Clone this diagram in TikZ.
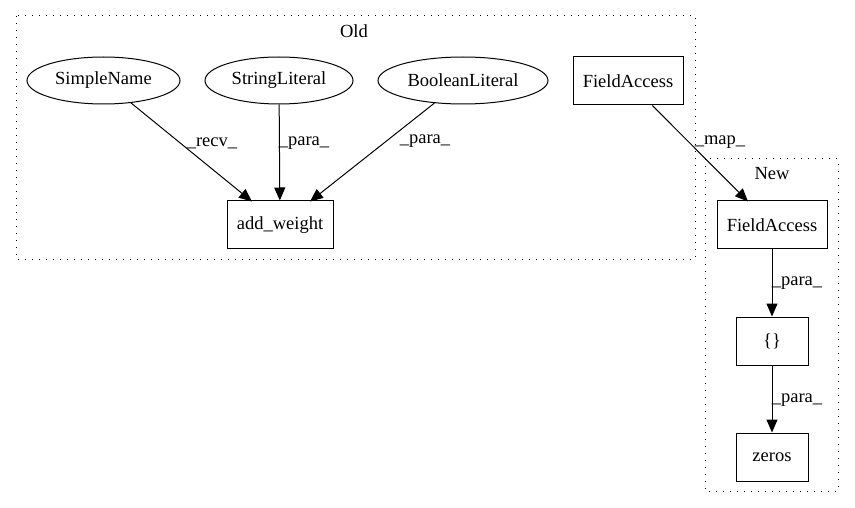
\documentclass[tikz,border=0pt]{standalone}
\usepackage{fontspec}
\setmainfont{Liberation Serif}
\usetikzlibrary{arrows.meta,shapes.geometric}
\begin{document}
\begin{tikzpicture}[x=1pt,y=-1pt,
  every node/.style={font=\fontsize{18.5}{21}\selectfont, inner sep=0pt},
  ell/.style={draw, ellipse, line width=1pt},
  boxnode/.style={draw, rectangle, line width=1pt},
  cluster/.style={draw, line width=1pt, dash pattern=on 1.3pt off 5.7pt},
  edge/.style={draw, line width=1pt, -{Triangle[length=13pt,width=11pt]}},
  lbl/.style={anchor=center}]
  \useasboundingbox (0,0) rectangle (855,508);

  % clusters
  \draw[cluster] (16,16) rectangle (695,259);
  \node (oldlbl) at (354,31) {Old};
  \draw[cluster] (705,159) rectangle (838,491);
  \node (newlbl) at (772,174) {New};

  % nodes of the old version
  \node[ell, minimum width=153pt, minimum height=47pt] (sn) at (103.5,80.5) {SimpleName};
  \node[ell, minimum width=148pt, minimum height=47pt] (sl) at (279,80.5) {StringLiteral};
  \node[ell, minimum width=170pt, minimum height=47pt] (bl) at (463,80.5) {BooleanLiteral};
  \node[boxnode, minimum width=110pt, minimum height=48pt] (fa1) at (628,81) {FieldAccess};
  \node[boxnode, minimum width=106pt, minimum height=48pt] (aw) at (280,225) {add\_weight};

  % nodes of the new version
  \node[boxnode, minimum width=110pt, minimum height=48pt] (fa2) at (772,225) {FieldAccess};
  \node[boxnode, minimum width=72pt, minimum height=48pt] (br) at (772,341) {\{\}};
  \node[boxnode, minimum width=72pt, minimum height=48pt] (zr) at (772,457) {zeros};

  % edges
  \draw[edge] (sn) -- (252,201.5);
  \node[lbl] (l1) at (212,143) {\_recv\_};
  \draw[edge] (sl) -- (aw);
  \node[lbl] (l2) at (304,143) {\_para\_};
  \draw[edge] (bl) -- (310,201.5);
  \node[lbl] (l3) at (425,141) {\_para\_};
  \draw[edge] (fa1) -- (748,201.5);
  \node[lbl] (l4) at (720,142) {\_map\_};
  \draw[edge] (fa2) -- (br);
  \node[lbl] (l5) at (797,283) {\_para\_};
  \draw[edge] (br) -- (zr);
  \node[lbl] (l6) at (797,400) {\_para\_};
\end{tikzpicture}
\end{document}
